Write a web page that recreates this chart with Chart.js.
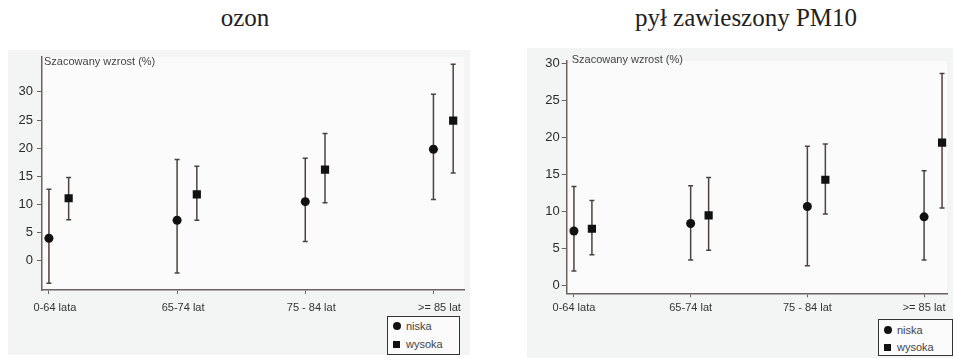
<!DOCTYPE html>
<html>
<head>
<meta charset="utf-8">
<script src="https://cdn.jsdelivr.net/npm/chart.js@4.4.0/dist/chart.umd.min.js"></script>
<style>
    body { margin: 0; width: 953px; height: 358px; background: #fff; position: relative; overflow: hidden; }
    .tytul { position: absolute; top: 4px; font-family: "Liberation Serif", serif; font-size: 25px; color: #222; white-space: nowrap; transform: translateX(-50%); }
    .panel { position: absolute; background: #f3f4f4; }
    .panel canvas { position: absolute; left: 0; top: 0; }
    .legenda { position: absolute; border: 1.5px solid #333; background: #fbfbfb; font-family: "Liberation Sans", Arial, sans-serif; font-size: 11px; line-height: 13px; color: #444; box-sizing: border-box; }
    .legenda div { position: absolute; left: 18px; }
    .legenda span { position: absolute; left: -13px; background: #111; }
    .kolo { width: 8px; height: 8px; border-radius: 50%; top: 2px; }
    .kwadrat { width: 7px; height: 7px; top: 3px; }
</style>
</head>
<body>
<div class="tytul" style="left:245px">ozon</div>
<div class="tytul" style="left:746px">pył zawieszony PM10</div>

<div class="panel" style="left:8px; top:50px; width:462px; height:305px">
    <canvas id="chartOzon"></canvas>
    <div class="legenda" style="left:379px; top:266px; width:73px; height:39px">
        <div style="top:3px"><span class="kolo"></span>niska</div>
        <div style="top:21px"><span class="kwadrat"></span>wysoka</div>
    </div>
</div>

<div class="panel" style="left:527px; top:48px; width:426px; height:310px">
    <canvas id="chartPM10"></canvas>
    <div class="legenda" style="left:351px; top:271px; width:75px; height:37px">
        <div style="top:4px"><span class="kolo"></span>niska</div>
        <div style="top:21px"><span class="kwadrat"></span>wysoka</div>
    </div>
</div>

<script>
// Dane
const kategorie = ["0-64 lata", "65-74 lat", "75 - 84 lat", ">= 85 lat"];
const yTicks = [0, 5, 10, 15, 20, 25, 30];

const ozonNiska = [4.0, 7.2, 10.5, 19.8];
const ozonNiskaDol = [-4.0, -2.2, 3.4, 10.9];
const ozonNiskaGora = [12.7, 18.0, 18.2, 29.6];
const ozonWysoka = [11.1, 11.8, 16.2, 24.9];
const ozonWysokaDol = [7.3, 7.2, 10.3, 15.6];
const ozonWysokaGora = [14.8, 16.8, 22.6, 34.9];

const pm10Niska = [7.4, 8.4, 10.7, 9.3];
const pm10NiskaDol = [2.0, 3.5, 2.7, 3.5];
const pm10NiskaGora = [13.4, 13.5, 18.8, 15.5];
const pm10Wysoka = [7.7, 9.5, 14.3, 19.3];
const pm10WysokaDol = [4.2, 4.8, 9.7, 10.5];
const pm10WysokaGora = [11.5, 14.6, 19.1, 28.6];

const przesuniecie = 0.154;
const kolorOsi = "#6e6260";
const kolorBledu = "#4d4240";

// Slupki bledu i tlo obszaru wykresu
const slupkiBledu = {
    id: "slupkiBledu",
    beforeDraw(chart) {
        const a = chart.chartArea;
        const ctx = chart.ctx;
        ctx.save();
        ctx.fillStyle = "#fbfbfb";
        ctx.fillRect(a.left, a.top, a.right - a.left, a.bottom - a.top);
        ctx.restore();
    },
    beforeDatasetsDraw(chart) {
        const ctx = chart.ctx;
        const y = chart.scales.y;
        ctx.save();
        ctx.strokeStyle = kolorBledu;
        ctx.lineWidth = 1.5;
        chart.data.datasets.forEach((ds, i) => {
            chart.getDatasetMeta(i).data.forEach((pt, j) => {
                const y1 = y.getPixelForValue(ds.dol[j]);
                const y2 = y.getPixelForValue(ds.gora[j]);
                ctx.beginPath();
                ctx.moveTo(pt.x, y1); ctx.lineTo(pt.x, y2);
                ctx.moveTo(pt.x - 2.5, y1); ctx.lineTo(pt.x + 2.5, y1);
                ctx.moveTo(pt.x - 2.5, y2); ctx.lineTo(pt.x + 2.5, y2);
                ctx.stroke();
            });
        });
        ctx.restore();
    },
    afterDraw(chart, args, opts) {
        const ctx = chart.ctx;
        ctx.save();
        ctx.font = "11px 'Liberation Sans', Arial, sans-serif";
        ctx.fillStyle = "#444";
        ctx.textBaseline = "middle";
        ctx.fillText("Szacowany wzrost (%)", chart.chartArea.left + opts.dx, chart.chartArea.top + opts.dy);
        ctx.restore();
    }
};

function punkty(wartosci, dx) {
    return wartosci.map((v, i) => ({ x: i + dx, y: v }));
}

function rysuj(id, w, h, dane, ustawienia) {
    const canvas = document.getElementById(id);
    canvas.width = w; canvas.height = h;
    canvas.style.width = w + "px"; canvas.style.height = h + "px";
    new Chart(canvas, {
        type: "scatter",
        data: {
            datasets: [{
                label: "niska",
                data: punkty(dane.niska, 0),
                dol: dane.niskaDol,
                gora: dane.niskaGora,
                pointStyle: "circle",
                pointRadius: 4.5,
                backgroundColor: "#111",
                borderColor: "#111",
                borderWidth: 0
            }, {
                label: "wysoka",
                data: punkty(dane.wysoka, przesuniecie),
                dol: dane.wysokaDol,
                gora: dane.wysokaGora,
                pointStyle: "rect",
                pointRadius: 5.8,
                backgroundColor: "#111",
                borderColor: "#111",
                borderWidth: 0
            }]
        },
        options: {
            responsive: false,
            animation: false,
            layout: { padding: { top: ustawienia.gora, right: 0, left: 0, bottom: 0 } },
            plugins: {
                legend: { display: false },
                tooltip: { enabled: false },
                slupkiBledu: { dx: ustawienia.etykietaDx, dy: ustawienia.etykietaDy }
            },
            scales: {
                x: {
                    type: "linear",
                    min: ustawienia.xMin,
                    max: ustawienia.xMax,
                    afterBuildTicks: s => { s.ticks = kategorie.map((k, i) => ({ value: i })); },
                    afterFit: s => { s.height = ustawienia.wysOsiX; s.paddingLeft = 0; s.paddingRight = 0; },
                    grid: { drawOnChartArea: false, drawTicks: true, tickLength: 4, color: kolorOsi, lineWidth: 1 },
                    border: { color: kolorOsi, width: 1.5 },
                    ticks: {
                        callback: v => kategorie[v],
                        maxRotation: 0,
                        autoSkip: false,
                        padding: ustawienia.xPadding,
                        labelOffset: ustawienia.xLabelOffset,
                        color: "#333",
                        font: { family: "'Liberation Sans', Arial, sans-serif", size: 11 }
                    }
                },
                y: {
                    min: ustawienia.yMin,
                    max: ustawienia.yMax,
                    afterBuildTicks: s => { s.ticks = yTicks.map(v => ({ value: v })); },
                    afterFit: s => { s.width = ustawienia.szerOsiY; s.paddingTop = 0; s.paddingBottom = 0; },
                    grid: { drawOnChartArea: false, drawTicks: true, tickLength: 5, color: kolorOsi, lineWidth: 1 },
                    border: { color: kolorOsi, width: 1.5 },
                    ticks: {
                        padding: ustawienia.yPadding,
                        color: "#2b2b2b",
                        font: { family: "'Liberation Sans', Arial, sans-serif", size: 13 }
                    }
                }
            }
        },
        plugins: [slupkiBledu]
    });
}

rysuj("chartOzon", 462, 305, {
    niska: ozonNiska, niskaDol: ozonNiskaDol, niskaGora: ozonNiskaGora,
    wysoka: ozonWysoka, wysokaDol: ozonWysokaDol, wysokaGora: ozonWysokaGora
}, {
    gora: 7, xMin: -0.054, xMax: 3.24, yMin: -5.2, yMax: 36.2,
    wysOsiX: 65, szerOsiY: 34, xPadding: 7, xLabelOffset: 6, yPadding: 4,
    etykietaDx: 2, etykietaDy: 5
});

rysuj("chartPM10", 426, 310, {
    niska: pm10Niska, niskaDol: pm10NiskaDol, niskaGora: pm10NiskaGora,
    wysoka: pm10Wysoka, wysokaDol: pm10WysokaDol, wysokaGora: pm10WysokaGora
}, {
    gora: 13, xMin: -0.062, xMax: 3.198, yMin: -1, yMax: 30.3,
    wysOsiX: 64.7, szerOsiY: 39.7, xPadding: 4, xLabelOffset: 0, yPadding: 2,
    etykietaDx: 5, etykietaDy: -1
});
</script>
</body>
</html>
